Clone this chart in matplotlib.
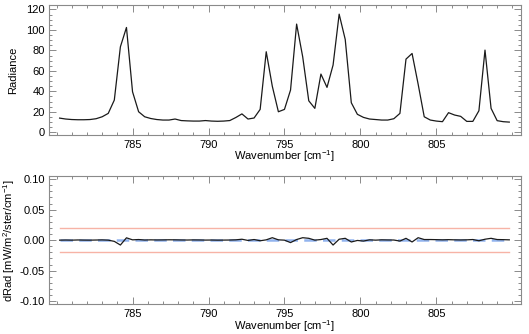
import numpy as np
import matplotlib
matplotlib.use("Agg")
import matplotlib.pyplot as plt
from matplotlib.ticker import MultipleLocator, FormatStrFormatter

plt.rcParams["font.family"] = ["Liberation Sans", "DejaVu Sans"]
plt.rcParams["mathtext.fontset"] = "custom"
plt.rcParams["mathtext.rm"] = "Liberation Sans"
plt.rcParams["mathtext.it"] = "Liberation Sans"

# spectral grid (cm^-1)
wavenumber = np.linspace(780.2, 809.8, 75)

radiance = [
    13.9, 13.0, 12.5, 12.3, 12.3, 12.5, 13.3, 15.2, 18.5, 31.5,
    83.5, 102.4, 39.6, 20.1, 15.2, 13.5, 12.5, 12.0, 12.0, 13.0,
    11.5, 11.2, 11.0, 11.0, 11.5, 11.0, 10.8, 11.0, 11.5, 14.5,
    18.0, 13.0, 14.0, 22.4, 78.7, 45.0, 20.1, 22.4, 41.3, 105.7,
    73.8, 30.8, 23.4, 56.9, 43.9, 65.7, 115.4, 90.7, 28.9, 17.6,
    14.6, 13.0, 12.5, 12.0, 12.0, 13.3, 18.5, 71.5, 77.0, 47.0,
    15.2, 12.0, 11.0, 10.4, 19.2, 16.9, 15.6, 10.7, 10.7, 21.1,
    80.3, 23.4, 11.4, 10.4, 10.0,
]

drad = [
    0.0000, 0.0002, 0.0000, 0.0003, 0.0001, 0.0000, 0.0002, 0.0004, 0.0000, -0.0020,
    -0.0080, 0.0038, 0.0005, 0.0010, 0.0002, 0.0005, 0.0003, 0.0004, 0.0006, 0.0005,
    0.0003, 0.0002, 0.0004, 0.0003, 0.0001, 0.0002, 0.0000, 0.0001, 0.0002, 0.0005,
    0.0015, -0.0005, 0.0010, -0.0010, 0.0005, 0.0040, 0.0005, 0.0000, -0.0040, 0.0010,
    0.0040, 0.0030, 0.0000, 0.0010, 0.0030, -0.0080, 0.0015, 0.0030, -0.0030, -0.0005,
    -0.0015, 0.0005, 0.0000, 0.0005, 0.0003, 0.0002, -0.0015, 0.0030, -0.0030, 0.0040,
    0.0010, 0.0010, 0.0008, 0.0005, 0.0008, 0.0005, 0.0003, 0.0005, 0.0010, -0.0010,
    0.0015, 0.0030, 0.0010, 0.0008, 0.0005,
]

drad_mean = 0.0008
drad_limit = 0.02

frame_color = "#8a8a8a"
fs = 8

fig = plt.figure(figsize=(5.29, 3.34), dpi=100)
ax1 = fig.add_axes([0.0926, 0.5958, 0.8917, 0.3882])
ax2 = fig.add_axes([0.0926, 0.0890, 0.8917, 0.3840])

def style(ax):
    for s in ax.spines.values():
        s.set_color(frame_color)
        s.set_linewidth(0.8)
    ax.tick_params(which="both", direction="in", top=True, right=True,
                   color=frame_color, labelsize=fs, width=0.7)
    ax.tick_params(which="major", length=5)
    ax.tick_params(which="minor", length=2.5)
    ax.tick_params(axis="x", which="major", pad=3.5)
    ax.tick_params(axis="y", which="major", pad=3)
    ax.xaxis.set_major_locator(MultipleLocator(5))
    ax.xaxis.set_minor_locator(MultipleLocator(1))
    ax.set_xlim(779.5, 810.55)
    ax.set_xlabel("Wavenumber [cm$^{-1}$]", fontsize=fs, labelpad=-1)

# radiance spectrum
ax1.plot(wavenumber, radiance, color="#1a1a1a", lw=0.9)
style(ax1)
ax1.set_ylim(-2.6, 124)
ax1.yaxis.set_major_locator(MultipleLocator(20))
ax1.yaxis.set_minor_locator(MultipleLocator(5))
ax1.set_xticks([785, 790, 795, 800, 805])
ax1.set_ylabel("Radiance", fontsize=fs, labelpad=6)

# radiance difference
x0, x1 = wavenumber[0], wavenumber[-1]
ax2.plot([x0, x1], [drad_limit, drad_limit], color="#f7b3a6", lw=1.0)
ax2.plot([x0, x1], [-drad_limit, -drad_limit], color="#f7b3a6", lw=1.0)
ax2.plot([x0, x1], [drad_mean, drad_mean], color="#92b4ee", lw=1.8,
         dashes=(5, 2.5))
ax2.plot(wavenumber, drad, color="#1a1a1a", lw=0.9)
style(ax2)
ax2.set_ylim(-0.105, 0.105)
ax2.yaxis.set_major_locator(MultipleLocator(0.05))
ax2.yaxis.set_minor_locator(MultipleLocator(0.01))
ax2.yaxis.set_major_formatter(FormatStrFormatter("%.2f"))
ax2.set_xticks([785, 790, 795, 800, 805])
ax2.set_ylabel("dRad [mW/m$^2$/ster/cm$^{-1}$]", fontsize=fs, labelpad=2)

fig.savefig("out.png", dpi=100)
